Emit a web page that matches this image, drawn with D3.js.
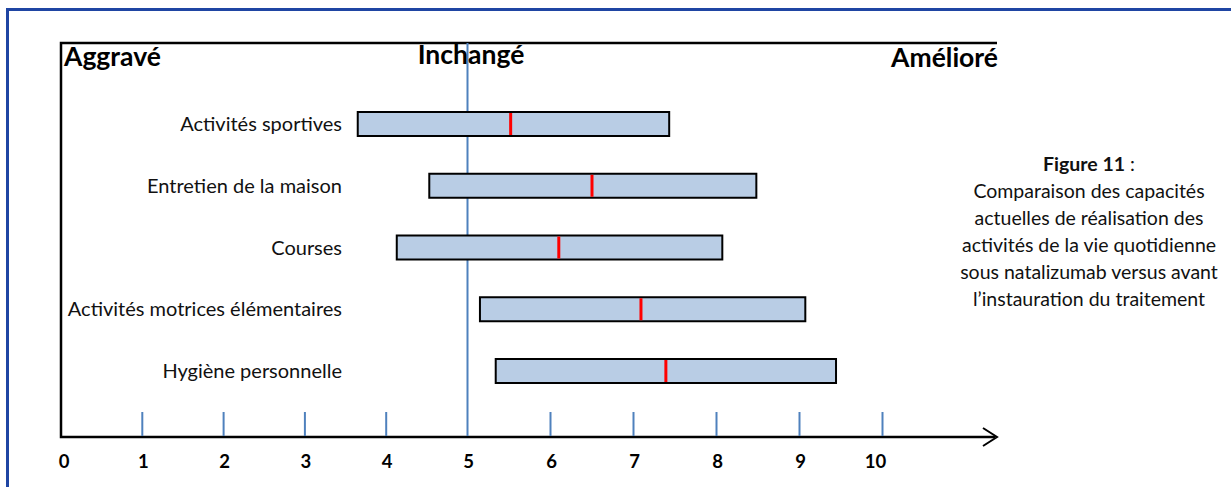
<!DOCTYPE html>
<html>
<head>
<meta charset="utf-8">
<script src="https://cdn.jsdelivr.net/npm/d3@7"></script>
<style>
  html, body { margin: 0; padding: 0; background: #fff; }
  svg { display: block; }
</style>
</head>
<body>
<div id="chart"></div>
<script>
// Activités et positions (échelle 0-10, 5 = inchangé)
const categories = [
    'Activités sportives',
    'Entretien de la maison',
    'Courses',
    'Activités motrices élémentaires',
    'Hygiène personnelle'
];
const lowValues = [3.65, 4.53, 4.13, 5.15, 5.34];
const highValues = [7.43, 8.48, 8.07, 9.07, 9.44];
const medianValues = [5.52, 6.50, 6.10, 7.09, 7.39];
const tickValues = [0, 1, 2, 3, 4, 5, 6, 7, 8, 9, 10];
const headerLabels = ['Aggravé', 'Inchangé', 'Amélioré'];
const captionLines = [
    'Comparaison des capacités',
    'actuelles de réalisation des',
    'activités de la vie quotidienne',
    'sous natalizumab versus avant',
    'l’instauration du traitement'
];

const W = 1231, H = 487;
const font = 'Lato, "Open Sans", sans-serif';

const svg = d3.select('#chart').append('svg')
    .attr('width', W)
    .attr('height', H);

// Blue frame
svg.append('rect')
    .attr('x', 7.5).attr('y', 9.5)
    .attr('width', W + 20).attr('height', H + 20)
    .attr('fill', 'none')
    .attr('stroke', '#1f45a3')
    .attr('stroke-width', 3);

// axe dessiné à la main : les deux moitiés n'ont pas tout à fait le même pas
const x = d3.scaleLinear().domain([0, 5, 10]).range([61, 467.5, 882.5]);
const y = d3.scalePoint().domain(categories).range([124, 371]);

const topY = 43, baseY = 437, rightX = 997;

// Box top line + left line + baseline
svg.append('path')
    .attr('d', `M${rightX},${topY} H${x(0)} V${baseY} H${rightX - 2}`)
    .attr('fill', 'none')
    .attr('stroke', '#000')
    .attr('stroke-width', 2.5);

// Arrow head
svg.append('path')
    .attr('d', `M${rightX - 14},${baseY - 9} L${rightX},${baseY} L${rightX - 14},${baseY + 9}`)
    .attr('fill', 'none')
    .attr('stroke', '#000')
    .attr('stroke-width', 2);

// Ticks
svg.selectAll('line.tick')
    .data(tickValues.filter(d => d > 0 && d !== 5))
    .enter().append('line')
    .attr('class', 'tick')
    .attr('x1', d => x(d)).attr('x2', d => x(d))
    .attr('y1', 412).attr('y2', baseY - 1)
    .attr('stroke', '#4f81bd')
    .attr('stroke-width', 2);

// Unchanged line at 5
svg.append('line')
    .attr('x1', x(5)).attr('x2', x(5))
    .attr('y1', topY).attr('y2', baseY - 1)
    .attr('stroke', '#4f81bd')
    .attr('stroke-width', 2);

// Tick labels
svg.selectAll('text.tl')
    .data(tickValues)
    .enter().append('text')
    .attr('class', 'tl')
    .attr('x', d => x(d) + (d === 0 ? 3 : d === 10 ? -7 : 1))
    .attr('y', 468)
    .attr('text-anchor', 'middle')
    .attr('font-family', font)
    .attr('font-weight', 'bold')
    .attr('font-size', 18.5)
    .text(d => d);

// Header labels
const hdr = (t, xx, yy, anchor) => svg.append('text')
    .attr('x', xx).attr('y', yy)
    .attr('text-anchor', anchor)
    .attr('font-family', font).attr('font-weight', 'bold').attr('font-size', 26.5)
    .text(t);
hdr(headerLabels[0], 64, 66, 'start');
hdr(headerLabels[1], 471, 64, 'middle');
hdr(headerLabels[2], 998, 67, 'end');

// Bars
const barH = 24;
const rows = svg.selectAll('g.row')
    .data(categories.map((c, i) => ({ name: c, lo: lowValues[i], hi: highValues[i], med: medianValues[i] })))
    .enter().append('g')
    .attr('class', 'row');

rows.append('rect')
    .attr('x', d => x(d.lo))
    .attr('y', d => y(d.name) - barH / 2)
    .attr('width', d => x(d.hi) - x(d.lo))
    .attr('height', barH)
    .attr('fill', '#b9cde5')
    .attr('stroke', '#000')
    .attr('stroke-width', 2);

rows.append('line')
    .attr('x1', d => x(d.med)).attr('x2', d => x(d.med))
    .attr('y1', d => y(d.name) - barH / 2 + 1)
    .attr('y2', d => y(d.name) + barH / 2 - 1)
    .attr('stroke', '#ff0000')
    .attr('stroke-width', 3);

rows.append('text')
    .attr('x', 342)
    .attr('y', d => y(d.name) + 7)
    .attr('text-anchor', 'end')
    .attr('font-family', font)
    .attr('font-size', 20)
    .attr('fill', '#111')
    .text(d => d.name);

// Caption
const cap = svg.append('text')
    .attr('font-family', font)
    .attr('font-size', 19.5)
    .attr('text-anchor', 'middle')
    .attr('fill', '#111');
const first = cap.append('tspan').attr('x', 1089).attr('y', 171);
first.append('tspan').attr('font-weight', 'bold').text('Figure 11');
first.append('tspan').text(' :');
captionLines.forEach((l, i) => {
    cap.append('tspan').attr('x', 1089).attr('y', 198 + i * 27).text(l);
});
</script>
</body>
</html>
